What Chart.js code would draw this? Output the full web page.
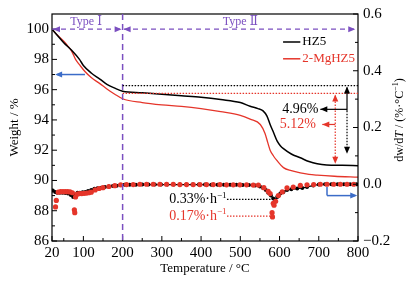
<!DOCTYPE html>
<html>
<head>
<meta charset="utf-8">
<script src="https://cdn.jsdelivr.net/npm/chart.js@4.4.0/dist/chart.umd.min.js"></script>
<style>
  html, body { margin: 0; padding: 0; background: #fff; }
</style>
</head>
<body>
<canvas id="chart" width="415" height="281"></canvas>
<script>
// TG curves (weight %)
const tgTempsHZ5 = [20, 30, 50, 70, 90, 100, 120, 142, 160, 180, 200, 250, 300, 350, 400, 450, 500, 525, 545, 558, 568, 576, 585, 594, 602, 610, 630, 653, 675, 696, 720, 760, 800];
const weightHZ5 = [100, 99.7, 99.1, 98.6, 98.0, 97.6, 97.1, 96.7, 96.35, 96.1, 95.9, 95.8, 95.7, 95.6, 95.5, 95.35, 95.15, 94.9, 94.75, 94.6, 94.25, 93.7, 93.15, 92.6, 92.3, 92.1, 91.75, 91.5, 91.25, 91.1, 91.02, 91.0, 90.98];
const tgTempsMg = [20, 30, 50, 60, 71, 80, 90, 104, 120, 142, 160, 180, 200, 250, 300, 350, 400, 450, 500, 525, 551, 563, 570, 576, 585, 594, 610, 630, 653, 675, 696, 740, 800];
const weightMg = [100, 99.7, 99.2, 98.9, 98.5, 98.0, 97.65, 97.2, 96.8, 96.4, 96.05, 95.7, 95.4, 95.15, 95.0, 94.9, 94.75, 94.55, 94.3, 94.05, 93.7, 93.1, 92.5, 92.0, 91.6, 91.3, 90.85, 90.65, 90.5, 90.4, 90.35, 90.28, 90.22];

// DTG points (dw/dT, %/°C)
const dtgTempsHZ5 = [22, 28, 33, 40, 47, 54, 61, 68, 74, 79, 85, 91, 98, 105, 112, 120, 128, 136, 145, 155, 165, 175, 185, 195, 205, 218, 234, 250, 266, 282, 298, 314, 330, 346, 362, 378, 394, 410, 426, 442, 458, 474, 490, 506, 522, 538, 550, 558, 565, 571, 578, 584, 589, 594, 598, 602, 610, 619, 630, 645, 658, 670, 686, 700, 716, 732, 748, 764, 780, 796];
const dtgHZ5 = [-0.022, -0.027, -0.03, -0.03, -0.03, -0.031, -0.033, -0.038, -0.045, -0.038, -0.03, -0.03, -0.028, -0.027, -0.024, -0.02, -0.016, -0.014, -0.012, -0.01, -0.008, -0.006, -0.005, -0.003, -0.002, -0.002, -0.002, -0.001, -0.001, -0.001, -0.001, -0.001, -0.001, -0.001, -0.001, -0.001, -0.001, -0.001, -0.002, -0.002, -0.002, -0.002, -0.002, -0.003, -0.003, -0.004, -0.008, -0.013, -0.02, -0.03, -0.04, -0.05, -0.056, -0.045, -0.04, -0.033, -0.027, -0.02, -0.018, -0.015, -0.013, -0.01, -0.004, -0.001, 0.0, 0.0, 0.0, 0.0, 0.0, 0.0];
const dtgTempsMg = [29, 31, 36, 42, 48, 54, 60, 66, 72, 77, 78, 80, 84, 90, 96, 102, 108, 114, 120, 130, 140, 150, 165, 180, 195, 210, 227, 244, 261, 278, 295, 312, 329, 346, 363, 380, 397, 414, 431, 448, 465, 482, 499, 516, 533, 546, 560, 571, 576, 581, 582, 584, 586, 590, 597, 607, 619, 635, 653, 670, 687, 704, 721, 738, 755, 772, 789];
const dtgMg = [-0.08, -0.057, -0.028, -0.026, -0.026, -0.026, -0.026, -0.027, -0.03, -0.09, -0.1, -0.045, -0.035, -0.033, -0.033, -0.032, -0.031, -0.03, -0.028, -0.02, -0.015, -0.012, -0.008, -0.005, -0.002, -0.001, -0.001, 0.0, 0.0, 0.0, 0.0, 0.0, 0.0, -0.001, -0.001, -0.001, -0.001, -0.001, -0.001, -0.001, -0.002, -0.002, -0.002, -0.002, -0.003, -0.003, -0.012, -0.025, -0.033, -0.1, -0.115, -0.067, -0.074, -0.06, -0.04, -0.027, -0.013, -0.01, -0.004, -0.002, -0.001, 0.0, 0.0, 0.0, 0.0, 0.0, 0.0];

// Axis ticks
const xTicks = [20, 100, 200, 300, 400, 500, 600, 700, 800];
const xMinor = [50, 150, 250, 350, 450, 550, 650, 750];
const yTicks = [86, 88, 90, 92, 94, 96, 98, 100];
const yMinor = [87, 89, 91, 93, 95, 97, 99];
const y1Ticks = [-0.2, 0.0, 0.2, 0.4, 0.6];
const y1Minor = [-0.1, 0.1, 0.3, 0.5];

const RED = '#e5352a';
const PURPLE = '#7b4fc0';
const BLUE = '#3b6cc8';
const SERIF = "'Liberation Serif', 'DejaVu Serif', serif";

function arrowHead(ctx, x, y, angle, color) {
  ctx.save();
  ctx.translate(x, y);
  ctx.rotate(angle);
  ctx.fillStyle = color;
  ctx.beginPath();
  ctx.moveTo(0, 0);
  ctx.lineTo(-7, -3);
  ctx.lineTo(-7, 3);
  ctx.closePath();
  ctx.fill();
  ctx.restore();
}

function line(ctx, x1, y1, x2, y2, color, width, dash) {
  ctx.save();
  ctx.strokeStyle = color;
  ctx.lineWidth = width;
  ctx.setLineDash(dash || []);
  ctx.beginPath();
  ctx.moveTo(x1, y1);
  ctx.lineTo(x2, y2);
  ctx.stroke();
  ctx.restore();
}

// text with a "−1" superscript at the end, right aligned at x
function rateText(ctx, main, x, y, color) {
  ctx.save();
  ctx.fillStyle = color;
  ctx.textBaseline = 'middle';
  ctx.font = '9px ' + SERIF;
  const sw = ctx.measureText('\u22121').width;
  ctx.textAlign = 'left';
  ctx.fillText('\u22121', x - sw, y - 4);
  ctx.font = '14px ' + SERIF;
  ctx.textAlign = 'right';
  ctx.fillText(main, x - sw, y);
  ctx.restore();
}

const annotations = {
  id: 'annotations',
  afterDatasetsDraw(chart) {
    const { ctx, chartArea: a, scales: { x, y, y1 } } = chart;
    ctx.save();

    // frame
    ctx.strokeStyle = '#000';
    ctx.lineWidth = 1.2;
    ctx.strokeRect(a.left, a.top, a.width, a.height);

    // inward ticks
    xTicks.forEach(v => line(ctx, x.getPixelForValue(v), a.bottom, x.getPixelForValue(v), a.bottom - 5, '#000', 1));
    xMinor.forEach(v => line(ctx, x.getPixelForValue(v), a.bottom, x.getPixelForValue(v), a.bottom - 3, '#000', 1));
    yTicks.forEach(v => line(ctx, a.left, y.getPixelForValue(v), a.left + 5, y.getPixelForValue(v), '#000', 1));
    yMinor.forEach(v => line(ctx, a.left, y.getPixelForValue(v), a.left + 3, y.getPixelForValue(v), '#000', 1));
    y1Ticks.forEach(v => line(ctx, a.right, y1.getPixelForValue(v), a.right - 5, y1.getPixelForValue(v), '#000', 1));
    y1Minor.forEach(v => line(ctx, a.right, y1.getPixelForValue(v), a.right - 3, y1.getPixelForValue(v), '#000', 1));

    // Type I / Type II
    const py = y.getPixelForValue(100);
    const x200 = x.getPixelForValue(200);
    line(ctx, x200, a.top, x200, a.bottom, PURPLE, 1.5, [6, 4]);
    line(ctx, x.getPixelForValue(20), py, x.getPixelForValue(793), py, PURPLE, 1.3, [5, 4]);
    arrowHead(ctx, x.getPixelForValue(20) + 1, py, Math.PI, PURPLE);
    arrowHead(ctx, x200 - 1, py, 0, PURPLE);
    arrowHead(ctx, x200 + 1, py, Math.PI, PURPLE);
    arrowHead(ctx, x.getPixelForValue(793), py, 0, PURPLE);
    ctx.fillStyle = PURPLE;
    ctx.font = '12px ' + SERIF;
    ctx.textAlign = 'center';
    ctx.textBaseline = 'middle';
    ctx.fillText('Type \u2160', x.getPixelForValue(107), py - 7);
    ctx.fillText('Type \u2161', x.getPixelForValue(500), py - 7);

    // legend
    const lx1 = x.getPixelForValue(609), lx2 = x.getPixelForValue(653);
    const ly1 = y.getPixelForValue(99.15), ly2 = y.getPixelForValue(98.04);
    line(ctx, lx1, ly1, lx2, ly1, '#000', 1.5);
    line(ctx, lx1, ly2, lx2, ly2, RED, 1.5);
    ctx.font = '13px ' + SERIF;
    ctx.textAlign = 'left';
    ctx.fillStyle = '#000';
    ctx.fillText('HZ5', lx2 + 2, ly1);
    ctx.fillStyle = RED;
    ctx.fillText('2-MgHZ5', lx2 + 2, ly2);

    // weight loss markers
    const yb = y.getPixelForValue(96.27), yr = y.getPixelForValue(95.75);
    line(ctx, x200, yb, a.right, yb, '#000', 1.2, [1.5, 1.5]);
    line(ctx, x200, yr, a.right, yr, RED, 1.2, [1.5, 1.5]);

    const xb = x.getPixelForValue(772);
    line(ctx, xb, yb + 2, xb, y.getPixelForValue(94.6), '#000', 1.2);
    line(ctx, xb, y.getPixelForValue(94.6), xb, y.getPixelForValue(91.76) - 5, '#000', 1.2, [1.5, 1.5]);
    arrowHead(ctx, xb, yb + 1, -Math.PI / 2, '#000');
    arrowHead(ctx, xb, y.getPixelForValue(91.76), Math.PI / 2, '#000');
    const yba = y.getPixelForValue(94.7);
    line(ctx, xb, yba, x.getPixelForValue(704), yba, '#000', 1.2);
    arrowHead(ctx, x.getPixelForValue(704), yba, Math.PI, '#000');

    const xr = x.getPixelForValue(742);
    line(ctx, xr, yr + 2, xr, y.getPixelForValue(91.1) - 5, RED, 1.2, [1.5, 1.5]);
    arrowHead(ctx, xr, yr + 1, -Math.PI / 2, RED);
    arrowHead(ctx, xr, y.getPixelForValue(91.1), Math.PI / 2, RED);
    const yra = y.getPixelForValue(93.7);
    line(ctx, xr, yra, x.getPixelForValue(709), yra, RED, 1.2);
    arrowHead(ctx, x.getPixelForValue(709), yra, Math.PI, RED);

    ctx.font = '14px ' + SERIF;
    ctx.textAlign = 'right';
    ctx.textBaseline = 'middle';
    ctx.fillStyle = '#000';
    ctx.fillText('4.96%', x.getPixelForValue(699), yba);
    ctx.fillStyle = RED;
    ctx.fillText('5.12%', x.getPixelForValue(693), yra);

    // blue axis arrows
    const yBlue = y.getPixelForValue(97.0);
    line(ctx, x.getPixelForValue(104), yBlue, x.getPixelForValue(33), yBlue, BLUE, 1.5);
    arrowHead(ctx, x.getPixelForValue(33) - 2, yBlue, Math.PI, BLUE);
    const xB = x.getPixelForValue(721), yB2 = y1.getPixelForValue(-0.04);
    line(ctx, xB, y1.getPixelForValue(-0.01), xB, yB2, BLUE, 1.5);
    line(ctx, xB, yB2, x.getPixelForValue(793), yB2, BLUE, 1.5);
    arrowHead(ctx, x.getPixelForValue(793) + 2, yB2, 0, BLUE);

    // DTG rate labels
    const yr1 = y1.getPixelForValue(-0.053), yr2 = y1.getPixelForValue(-0.112);
    line(ctx, x.getPixelForValue(466), yr1, x.getPixelForValue(581), yr1, '#000', 1.2, [1.5, 1.5]);
    line(ctx, x.getPixelForValue(466), yr2, x.getPixelForValue(576), yr2, RED, 1.2, [1.5, 1.5]);
    rateText(ctx, '0.33%\u00b7h', x.getPixelForValue(465), yr1, '#000');
    rateText(ctx, '0.17%\u00b7h', x.getPixelForValue(465), yr2, RED);

    // right axis title
    ctx.save();
    ctx.translate(400, 120);
    ctx.rotate(-Math.PI / 2);
    ctx.fillStyle = '#000';
    ctx.textBaseline = 'middle';
    const parts = [
      ['dw/d', '12px ' + SERIF, 0],
      ['T', 'italic 12px ' + SERIF, 0],
      [' / (%\u00b7\u00b0C', '12px ' + SERIF, 0],
      ['\u22121', '8px ' + SERIF, -4],
      [')', '12px ' + SERIF, 0]
    ];
    let total = 0;
    parts.forEach(p => { ctx.font = p[1]; total += ctx.measureText(p[0]).width; });
    let cx = -total / 2;
    ctx.textAlign = 'left';
    parts.forEach(p => { ctx.font = p[1]; ctx.fillText(p[0], cx, p[2]); cx += ctx.measureText(p[0]).width; });
    ctx.restore();

    ctx.restore();
  }
};

const setTicks = list => scale => { scale.ticks = list.map(v => ({ value: v })); };

new Chart(document.getElementById('chart').getContext('2d'), {
  type: 'scatter',
  data: {
    datasets: [
      {
        label: '2-MgHZ5 DTG',
        data: dtgTempsMg.map((t, i) => ({ x: t, y: dtgMg[i] })),
        yAxisID: 'y1',
        showLine: false,
        pointRadius: 2.6,
        pointBackgroundColor: RED,
        pointBorderWidth: 0
      },
      {
        label: 'HZ5 DTG',
        data: dtgTempsHZ5.map((t, i) => ({ x: t, y: dtgHZ5[i] })),
        yAxisID: 'y1',
        showLine: true,
        borderColor: '#000',
        borderWidth: 1.3,
        pointRadius: 2,
        pointBackgroundColor: '#000',
        pointBorderWidth: 0
      },
      {
        label: 'HZ5',
        data: tgTempsHZ5.map((t, i) => ({ x: t, y: weightHZ5[i] })),
        yAxisID: 'y',
        showLine: true,
        borderColor: '#000',
        borderWidth: 1.5,
        pointRadius: 0,
        cubicInterpolationMode: 'monotone'
      },
      {
        label: '2-MgHZ5',
        data: tgTempsMg.map((t, i) => ({ x: t, y: weightMg[i] })),
        yAxisID: 'y',
        showLine: true,
        borderColor: RED,
        borderWidth: 1.3,
        pointRadius: 0,
        cubicInterpolationMode: 'monotone'
      }
    ]
  },
  options: {
    responsive: false,
    animation: false,
    events: [],
    layout: { padding: { top: 12, left: 0, right: 0, bottom: 0 } },
    plugins: { legend: { display: false }, tooltip: { enabled: false } },
    scales: {
      x: {
        type: 'linear',
        min: 20,
        max: 800,
        afterBuildTicks: setTicks(xTicks),
        afterFit: s => { s.height = 40; },
        grid: { display: false, drawTicks: false },
        border: { display: false },
        ticks: { color: '#000', font: { family: SERIF, size: 15 }, padding: 3, maxRotation: 0, autoSkip: false },
        title: { display: true, text: 'Temperature / \u00b0C', color: '#000', font: { family: SERIF, size: 13 }, padding: { top: 0, bottom: 5 } }
      },
      y: {
        position: 'left',
        min: 86,
        max: 101,
        afterBuildTicks: setTicks(yTicks),
        afterFit: s => { s.width = 52; },
        grid: { display: false, drawTicks: false },
        border: { display: false },
        ticks: { color: '#000', font: { family: SERIF, size: 15 }, padding: 3 },
        title: { display: true, text: 'Weight / %', color: '#000', font: { family: SERIF, size: 13 }, padding: { top: 7, bottom: 0 } }
      },
      y1: {
        position: 'right',
        min: -0.2,
        max: 0.6,
        afterBuildTicks: setTicks(y1Ticks),
        afterFit: s => { s.width = 57; },
        grid: { display: false, drawTicks: false },
        border: { display: false },
        ticks: {
          color: '#000', font: { family: SERIF, size: 15 }, padding: 5,
          callback: v => (v < 0 ? '\u2212' : '') + Math.abs(v).toFixed(1)
        }
      }
    }
  },
  plugins: [annotations]
});
</script>
</body>
</html>
